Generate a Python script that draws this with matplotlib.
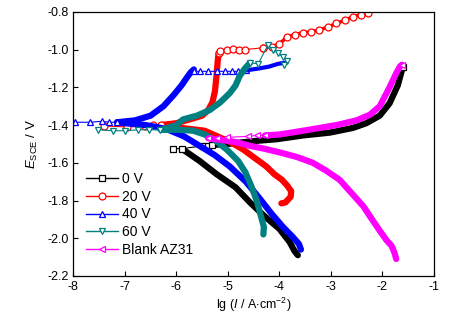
import matplotlib
matplotlib.use('Agg')
import matplotlib.pyplot as plt
from matplotlib.lines import Line2D

plt.rcParams['font.family'] = ['Liberation Sans', 'DejaVu Sans']
plt.rcParams['mathtext.fontset'] = 'custom'
plt.rcParams['mathtext.rm'] = 'Liberation Sans'
plt.rcParams['mathtext.it'] = 'Liberation Sans:italic'

# 0 V
v0_cath_x = [-3.64, -3.70, -3.80, -4.00, -4.30, -4.57, -4.85, -5.22, -5.55, -5.87]
v0_cath_y = [-2.09, -2.07, -2.02, -1.95, -1.88, -1.81, -1.73, -1.66, -1.59, -1.53]
v0_open_x = [-6.07, -5.89, -5.48, -5.38, -5.30]
v0_open_y = [-1.525, -1.525, -1.51, -1.51, -1.505]
v0_anod_x = [-5.30, -5.00, -4.50, -4.05, -3.54, -3.02, -2.57, -2.31, -2.05, -1.86, -1.70, -1.60]
v0_anod_y = [-1.505, -1.50, -1.485, -1.475, -1.455, -1.44, -1.415, -1.39, -1.35, -1.285, -1.19, -1.09]

# 20 V
v20_cath_x = [-3.96, -3.88, -3.78, -3.77, -3.85, -3.95, -4.10, -4.25, -4.45, -4.70, -4.95, -5.20, -5.45, -5.75, -6.05, -6.30]
v20_cath_y = [-1.815, -1.81, -1.78, -1.75, -1.72, -1.69, -1.66, -1.62, -1.58, -1.53, -1.49, -1.46, -1.43, -1.42, -1.41, -1.40]
v20_open_x = [-7.40, -6.95, -6.60, -6.45, -6.30]
v20_open_y = [-1.405, -1.41, -1.405, -1.40, -1.40]
v20_anod_x = [-6.30, -6.00, -5.74, -5.50, -5.38, -5.30, -5.25, -5.22, -5.20, -5.18]
v20_anod_y = [-1.40, -1.39, -1.37, -1.35, -1.32, -1.28, -1.22, -1.14, -1.07, -1.02]
v20_open2_x = [-5.18, -5.15, -5.02, -4.90, -4.78, -4.67, -4.32]
v20_open2_y = [-1.02, -1.005, -1.00, -0.995, -1.00, -1.00, -0.99]
v20_top_x = [-4.32, -4.15, -4.00, -3.86, -3.70, -3.54, -3.38, -3.22, -3.05, -2.89, -2.73, -2.57, -2.42, -2.27]
v20_top_y = [-0.99, -0.985, -0.97, -0.935, -0.92, -0.91, -0.905, -0.895, -0.88, -0.86, -0.845, -0.825, -0.815, -0.805]

# 40 V
v40_cath_x = [-3.58, -3.62, -3.75, -3.93, -4.15, -4.38, -4.65, -4.96, -5.25, -5.55, -5.85, -6.20, -6.60, -7.00, -7.15]
v40_cath_y = [-2.06, -2.03, -1.99, -1.94, -1.87, -1.79, -1.70, -1.62, -1.56, -1.51, -1.46, -1.42, -1.40, -1.39, -1.385]
v40_open_x = [-7.97, -7.68, -7.45, -7.30, -7.15]
v40_open_y = [-1.385, -1.385, -1.38, -1.385, -1.385]
v40_anod_x = [-7.15, -6.80, -6.50, -6.25, -6.05, -5.90, -5.80, -5.72, -5.66]
v40_anod_y = [-1.385, -1.375, -1.35, -1.30, -1.24, -1.19, -1.15, -1.12, -1.105]
v40_open2_x = [-5.66, -5.54, -5.38, -5.21, -5.05, -4.92, -4.80, -4.65]
v40_open2_y = [-1.115, -1.115, -1.115, -1.115, -1.115, -1.115, -1.115, -1.11]
v40_top_x = [-4.65, -4.40, -4.20, -4.02, -3.90]
v40_top_y = [-1.11, -1.10, -1.09, -1.075, -1.07]

# 60 V
v60_cath_x = [-4.31, -4.30, -4.36, -4.44, -4.55, -4.66, -4.80, -5.02, -5.25, -5.45, -5.67, -5.95, -6.30]
v60_cath_y = [-1.98, -1.94, -1.88, -1.80, -1.72, -1.65, -1.59, -1.53, -1.48, -1.45, -1.43, -1.425, -1.425]
v60_open_x = [-7.52, -7.23, -6.99, -6.74, -6.54, -6.32]
v60_open_y = [-1.425, -1.43, -1.43, -1.425, -1.425, -1.425]
v60_anod_x = [-6.30, -6.00, -5.87, -5.60, -5.35, -5.15, -4.96, -4.85, -4.77, -4.67, -4.57]
v60_anod_y = [-1.425, -1.40, -1.37, -1.35, -1.32, -1.28, -1.23, -1.19, -1.14, -1.10, -1.07]
v60_open2_x = [-4.57, -4.41, -4.22, -4.12, -4.02, -3.92, -3.86, -3.90]
v60_open2_y = [-1.07, -1.075, -0.975, -1.00, -1.02, -1.04, -1.06, -1.08]

# Blank AZ31
az_cath_x = [-1.73, -1.76, -1.82, -1.92, -2.05, -2.20, -2.37, -2.60, -2.83, -3.10, -3.35, -3.65, -3.99, -4.30, -4.57, -4.85, -5.10, -5.38]
az_cath_y = [-2.11, -2.08, -2.04, -2.01, -1.96, -1.90, -1.83, -1.76, -1.69, -1.64, -1.60, -1.57, -1.545, -1.525, -1.51, -1.49, -1.48, -1.47]
az_open_x = [-5.38, -5.21, -5.02, -4.61, -4.44, -4.28]
az_open_y = [-1.47, -1.47, -1.465, -1.46, -1.455, -1.455]
az_anod_x = [-4.28, -4.00, -3.54, -2.89, -2.50, -2.24, -2.05, -1.86, -1.73, -1.66, -1.62]
az_anod_y = [-1.455, -1.45, -1.43, -1.40, -1.375, -1.345, -1.30, -1.20, -1.125, -1.09, -1.08]

labels = ['0 V', '20 V', '40 V', '60 V', 'Blank AZ31']
colors = ['black', '#ff0000', '#0000ff', '#008080', '#ff00ff']
markers = ['s', 'o', '^', 'v', '<']

fig = plt.figure(figsize=(4.5, 3.22), dpi=100)
ax = fig.add_axes([0.163, 0.143, 0.801, 0.820])


def band(x, y, c, lw=4.5):
    ax.plot(x, y, color=c, lw=lw, solid_capstyle='round', solid_joinstyle='round')


def sparse(x, y, c, m):
    ax.plot(x, y, color=c, lw=0.8, marker=m, ms=5, mfc='white', mec=c, mew=0.9)


# 0 V
band(v0_cath_x, v0_cath_y, colors[0])
band(v0_anod_x, v0_anod_y, colors[0])
sparse(v0_open_x, v0_open_y, colors[0], markers[0])
sparse(v0_anod_x[-1:], v0_anod_y[-1:], colors[0], markers[0])

# 20 V
band(v20_cath_x, v20_cath_y, colors[1])
band(v20_anod_x, v20_anod_y, colors[1])
sparse(v20_open_x, v20_open_y, colors[1], markers[1])
sparse(v20_open2_x, v20_open2_y, colors[1], markers[1])
band(v20_top_x, v20_top_y, colors[1], lw=2.5)
sparse(v20_top_x, v20_top_y, colors[1], markers[1])

# 40 V
band(v40_cath_x, v40_cath_y, colors[2])
band(v40_anod_x, v40_anod_y, colors[2])
sparse(v40_open_x, v40_open_y, colors[2], markers[2])
sparse(v40_open2_x, v40_open2_y, colors[2], markers[2])
band(v40_top_x, v40_top_y, colors[2], lw=3)

# 60 V
band(v60_cath_x, v60_cath_y, colors[3])
band(v60_anod_x, v60_anod_y, colors[3])
sparse(v60_open_x, v60_open_y, colors[3], markers[3])
sparse(v60_open2_x, v60_open2_y, colors[3], markers[3])

# Blank AZ31
band(az_cath_x, az_cath_y, colors[4])
band(az_anod_x, az_anod_y, colors[4])
sparse(az_open_x, az_open_y, colors[4], markers[4])
sparse(az_anod_x[-1:], az_anod_y[-1:], colors[4], markers[4])

ax.set_xlim(-8, -1)
ax.set_ylim(-2.2, -0.8)
ax.set_xticks([-8, -7, -6, -5, -4, -3, -2, -1])
ax.set_yticks([-2.2, -2.0, -1.8, -1.6, -1.4, -1.2, -1.0, -0.8])
ax.set_xticklabels(['-8', '-7', '-6', '-5', '-4', '-3', '-2', '-1'])
ax.set_yticklabels(['-2.2', '-2.0', '-1.8', '-1.6', '-1.4', '-1.2', '-1.0', '-0.8'])
ax.tick_params(direction='in', labelsize=9, length=3.5, width=0.8)
for s in ax.spines.values():
    s.set_linewidth(0.9)

ax.set_xlabel('lg ($\\it{I}$ / A$\\cdot$cm$^{-2}$)', fontsize=9, labelpad=2)
ax.set_ylabel('$\\it{E}_{\\rm SCE}$ / V', fontsize=9.5, labelpad=5)

handles = [Line2D([], [], color=c, lw=1, marker=m, ms=5, mfc='white', mec=c, mew=0.9)
           for c, m in zip(colors, markers)]
ax.legend(handles, labels, loc='center left', bbox_to_anchor=(0.035, 0.233),
          frameon=False, fontsize=10, handlelength=2.3, handletextpad=0.3,
          labelspacing=0.28, borderpad=0, borderaxespad=0)

fig.savefig('out.png', dpi=100)
